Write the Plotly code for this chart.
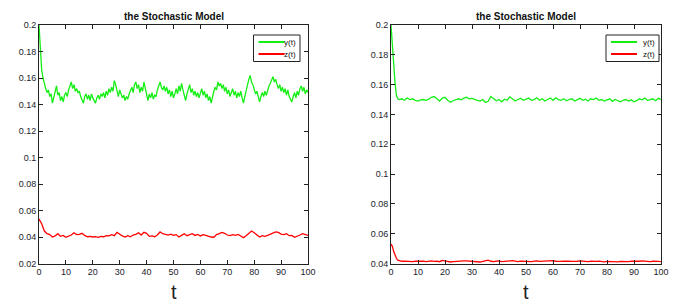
import plotly.graph_objects as go

# ---------------- data ----------------
T_LEFT_Y = [i * 0.5 for i in range(201)]
LEFT_Y = [
    0.200, 0.178, 0.166, 0.160, 0.155, 0.152, 0.149, 0.151, 0.146, 0.148,
    0.141, 0.145, 0.150, 0.154, 0.147, 0.149, 0.143, 0.146, 0.142, 0.147,
    0.149, 0.146, 0.151, 0.155, 0.157, 0.152, 0.155, 0.150, 0.152, 0.149,
    0.150, 0.146, 0.144, 0.141, 0.146, 0.148, 0.144, 0.147, 0.143, 0.148,
    0.145, 0.143, 0.141, 0.145, 0.147, 0.144, 0.148, 0.146, 0.149, 0.145,
    0.150, 0.147, 0.152, 0.149, 0.153, 0.150, 0.158, 0.155, 0.149, 0.146,
    0.151, 0.148, 0.145, 0.147, 0.143, 0.146, 0.144, 0.148, 0.150, 0.153,
    0.149, 0.155, 0.157, 0.152, 0.155, 0.149, 0.153, 0.150, 0.157, 0.152,
    0.147, 0.143, 0.148, 0.145, 0.149, 0.144, 0.147, 0.146, 0.151, 0.154,
    0.157, 0.153, 0.151, 0.154, 0.150, 0.153, 0.148, 0.151, 0.146, 0.150,
    0.145, 0.148, 0.152, 0.148, 0.154, 0.150, 0.156, 0.151, 0.147, 0.143,
    0.148, 0.152, 0.155, 0.149, 0.152, 0.147, 0.150, 0.146, 0.149, 0.145,
    0.148, 0.152, 0.147, 0.150, 0.145, 0.148, 0.143, 0.146, 0.141, 0.146,
    0.150, 0.153, 0.151, 0.157, 0.154, 0.156, 0.152, 0.155, 0.150, 0.153,
    0.148, 0.151, 0.146, 0.149, 0.152, 0.147, 0.150, 0.145, 0.149, 0.146,
    0.150, 0.145, 0.141, 0.146, 0.151, 0.156, 0.159, 0.162, 0.157, 0.155,
    0.151, 0.148, 0.150, 0.145, 0.142, 0.146, 0.149, 0.146, 0.150, 0.147,
    0.151, 0.154, 0.156, 0.158, 0.161, 0.157, 0.159, 0.155, 0.152, 0.155,
    0.150, 0.153, 0.149, 0.152, 0.147, 0.151, 0.146, 0.144, 0.142, 0.146,
    0.149, 0.145, 0.150, 0.147, 0.152, 0.154, 0.150, 0.153, 0.148, 0.151,
    0.149,
]

T_LEFT_Z = list(range(101))
LEFT_Z = [
    0.0535, 0.0500, 0.0445, 0.0425, 0.0418, 0.0400, 0.0408, 0.0425, 0.0405, 0.0412,
    0.0398, 0.0405, 0.0415, 0.0432, 0.0418, 0.0420, 0.0428, 0.0412, 0.0402, 0.0405,
    0.0400, 0.0403, 0.0398, 0.0405, 0.0402, 0.0410, 0.0408, 0.0418, 0.0410, 0.0435,
    0.0420, 0.0408, 0.0400, 0.0410, 0.0402, 0.0415, 0.0420, 0.0432, 0.0415, 0.0435,
    0.0428, 0.0405, 0.0408, 0.0402, 0.0415, 0.0438, 0.0425, 0.0420, 0.0415, 0.0422,
    0.0412, 0.0418, 0.0400, 0.0412, 0.0425, 0.0410, 0.0418, 0.0425, 0.0412, 0.0420,
    0.0408, 0.0418, 0.0412, 0.0405, 0.0400, 0.0398, 0.0418, 0.0425, 0.0435, 0.0428,
    0.0415, 0.0410, 0.0418, 0.0412, 0.0420, 0.0408, 0.0395, 0.0410, 0.0425, 0.0445,
    0.0432, 0.0415, 0.0400, 0.0410, 0.0405, 0.0412, 0.0420, 0.0432, 0.0438, 0.0435,
    0.0422, 0.0418, 0.0425, 0.0410, 0.0412, 0.0398, 0.0405, 0.0415, 0.0425, 0.0418,
    0.0412,
]

T_RIGHT = [0, 0.5, 1, 1.5, 2, 2.5] + list(range(3, 101))
RIGHT_Y = [
    0.200, 0.186, 0.172, 0.161, 0.153, 0.1505,
    0.1500, 0.1505, 0.1495, 0.1510, 0.1500, 0.1505, 0.1495, 0.1490, 0.1498, 0.1500,
    0.1495, 0.1502, 0.1515, 0.1520, 0.1505, 0.1490, 0.1510, 0.1515, 0.1495, 0.1482,
    0.1492, 0.1500, 0.1505, 0.1498, 0.1510, 0.1515, 0.1505, 0.1508, 0.1500, 0.1495,
    0.1490, 0.1500, 0.1480, 0.1488, 0.1520, 0.1505, 0.1492, 0.1500, 0.1485, 0.1502,
    0.1495, 0.1518, 0.1505, 0.1490, 0.1500, 0.1508, 0.1495, 0.1500, 0.1510, 0.1495,
    0.1500, 0.1512, 0.1495, 0.1505, 0.1490, 0.1500, 0.1510, 0.1495, 0.1512, 0.1500,
    0.1495, 0.1505, 0.1492, 0.1500, 0.1505, 0.1490, 0.1500, 0.1508, 0.1495, 0.1502,
    0.1490, 0.1505, 0.1500, 0.1510, 0.1495, 0.1500, 0.1490, 0.1498, 0.1505, 0.1488,
    0.1500, 0.1492, 0.1485, 0.1495, 0.1500, 0.1490, 0.1498, 0.1485, 0.1492, 0.1505,
    0.1498, 0.1510, 0.1495, 0.1500, 0.1505, 0.1492, 0.1508, 0.1500,
]
RIGHT_Z = [
    0.0530, 0.0515, 0.0480, 0.0455, 0.0435, 0.0422,
    0.0418, 0.0415, 0.0416, 0.0414, 0.0416, 0.0413, 0.0415, 0.0417, 0.0414, 0.0416,
    0.0413, 0.0415, 0.0418, 0.0414, 0.0416, 0.0412, 0.0420, 0.0417, 0.0412, 0.0410,
    0.0413, 0.0415, 0.0414, 0.0416, 0.0417, 0.0418, 0.0416, 0.0414, 0.0415, 0.0412,
    0.0410, 0.0414, 0.0418, 0.0422, 0.0415, 0.0412, 0.0416, 0.0418, 0.0413, 0.0415,
    0.0417, 0.0414, 0.0419, 0.0416, 0.0413, 0.0416, 0.0414, 0.0417, 0.0415, 0.0413,
    0.0416, 0.0418, 0.0414, 0.0416, 0.0413, 0.0415, 0.0417, 0.0419, 0.0415, 0.0412,
    0.0414, 0.0416, 0.0413, 0.0415, 0.0414, 0.0412, 0.0415, 0.0417, 0.0414, 0.0416,
    0.0413, 0.0415, 0.0412, 0.0414, 0.0416, 0.0413, 0.0411, 0.0414, 0.0412, 0.0415,
    0.0413, 0.0411, 0.0414, 0.0412, 0.0410, 0.0413, 0.0416, 0.0414, 0.0412, 0.0415,
    0.0417, 0.0414, 0.0416, 0.0413, 0.0415, 0.0417, 0.0414, 0.0413,
]

X_TICKS = list(range(0, 101, 10))
LEFT_Y_TICKS = [0.02, 0.04, 0.06, 0.08, 0.1, 0.12, 0.14, 0.16, 0.18, 0.2]
LEFT_Y_LABELS = ["0.02", "0.04", "0.06", "0.08", "0.1", "0.12", "0.14", "0.16", "0.18", "0.2"]
RIGHT_Y_TICKS = [0.04, 0.06, 0.08, 0.1, 0.12, 0.14, 0.16, 0.18, 0.2]
RIGHT_Y_LABELS = ["0.04", "0.06", "0.08", "0.1", "0.12", "0.14", "0.16", "0.18", "0.2"]
TITLE = "the Stochastic Model"
NAMES = ["y(t)", "z(t)"]

# ---------------- figure ----------------
W, H = 688, 305
GREEN = "rgb(20,238,20)"
RED = "rgb(255,0,0)"
FONT = "Liberation Sans, Arial, sans-serif"
TICKCOL = "#1c1c2c"
COLORS = [GREEN, RED]
LW = 1.3


def px(x):
    return x / W


def py(y):
    return 1 - y / H


L_DOM = [px(39), px(308)]
R_DOM = [px(391), px(661)]
Y_DOM = [py(263.5), py(25)]

fig = go.Figure()
fig.add_trace(go.Scatter(x=T_LEFT_Y, y=LEFT_Y, mode="lines", name=NAMES[0],
                         line=dict(color=GREEN, width=LW), xaxis="x", yaxis="y"))
fig.add_trace(go.Scatter(x=T_LEFT_Z, y=LEFT_Z, mode="lines", name=NAMES[1],
                         line=dict(color=RED, width=LW), xaxis="x", yaxis="y"))
fig.add_trace(go.Scatter(x=T_RIGHT, y=RIGHT_Y, mode="lines", name=NAMES[0],
                         line=dict(color=GREEN, width=LW), xaxis="x2", yaxis="y2"))
fig.add_trace(go.Scatter(x=T_RIGHT, y=RIGHT_Z, mode="lines", name=NAMES[1],
                         line=dict(color=RED, width=LW), xaxis="x2", yaxis="y2"))

axis_common = dict(showline=True, linecolor="#222", linewidth=1, mirror="ticks",
                   ticks="inside", ticklen=4, tickcolor="#222", showgrid=False,
                   zeroline=False, automargin=False,
                   tickfont=dict(size=9, color=TICKCOL, family=FONT))

fig.update_layout(
    width=W, height=H,
    margin=dict(l=0, r=0, t=0, b=0, autoexpand=False),
    paper_bgcolor="white", plot_bgcolor="white",
    font=dict(family=FONT),
    showlegend=False,
    xaxis=dict(domain=L_DOM, range=[0, 100], tickvals=X_TICKS, anchor="y", **axis_common),
    yaxis=dict(domain=Y_DOM, range=[0.02, 0.2], tickvals=LEFT_Y_TICKS, ticktext=LEFT_Y_LABELS,
               anchor="x", **axis_common),
    xaxis2=dict(domain=R_DOM, range=[0, 100], tickvals=X_TICKS, anchor="y2", **axis_common),
    yaxis2=dict(domain=Y_DOM, range=[0.04, 0.2], tickvals=RIGHT_Y_TICKS, ticktext=RIGHT_Y_LABELS,
                anchor="x2", **axis_common),
)

# titles and x-axis labels
for dom in (L_DOM, R_DOM):
    cx = (dom[0] + dom[1]) / 2
    fig.add_annotation(text="<b>" + TITLE + "</b>", x=cx, y=py(16), xref="paper", yref="paper",
                       showarrow=False, font=dict(size=10, color="#111", family=FONT),
                       xanchor="center", yanchor="middle")
    fig.add_annotation(text="t", x=cx, y=py(292), xref="paper", yref="paper",
                       showarrow=False, font=dict(size=20, color="#222", family=FONT),
                       xanchor="center", yanchor="middle")

# legend boxes (drawn in paper space, one per panel)
LEGEND_BOXES = [(253.5, 300), (606, 659)]
for (x0, x1) in LEGEND_BOXES:
    fig.add_shape(type="rect", xref="paper", yref="paper",
                  x0=px(x0), x1=px(x1), y0=py(61.5), y1=py(35),
                  line=dict(color="#222", width=1), fillcolor="white", layer="above")
    for k, ly in enumerate((42, 54)):
        fig.add_shape(type="line", xref="paper", yref="paper",
                      x0=px(x0 + 5), x1=px(x0 + 31), y0=py(ly), y1=py(ly),
                      line=dict(color=COLORS[k], width=2), layer="above")
        fig.add_annotation(text=NAMES[k], x=px(x1 - 2), y=py(ly), xref="paper", yref="paper",
                           showarrow=False, xanchor="right", yanchor="middle",
                           font=dict(size=8, color="#111", family=FONT))

fig.write_html(
    "out.html",
    config={"displayModeBar": False},
    post_script="document.body.style.margin='0';document.body.style.overflow='hidden';",
)
